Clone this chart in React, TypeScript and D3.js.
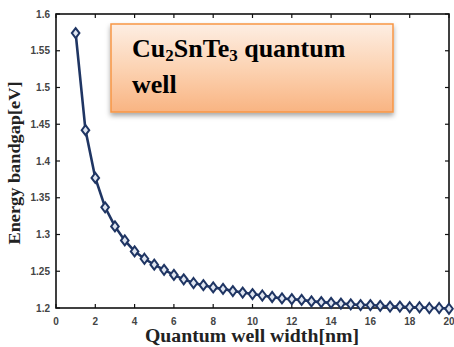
import React from "react";
import * as d3 from "d3";

const widths: number[] = [1, 1.5, 2, 2.5, 3, 3.5, 4, 4.5, 5, 5.5, 6, 6.5, 7, 7.5, 8, 8.5, 9, 9.5, 10, 10.5, 11, 11.5, 12, 12.5, 13, 13.5, 14, 14.5, 15, 15.5, 16, 16.5, 17, 17.5, 18, 18.5, 19, 19.5, 20];
const bandgap: number[] = [1.574, 1.442, 1.377, 1.337, 1.311, 1.292, 1.277, 1.267, 1.259, 1.252, 1.245, 1.239, 1.234, 1.231, 1.228, 1.226, 1.223, 1.221, 1.219, 1.217, 1.215, 1.213, 1.212, 1.211, 1.209, 1.208, 1.207, 1.206, 1.205, 1.204, 1.204, 1.203, 1.202, 1.202, 1.201, 1.201, 1.2, 1.2, 1.199];
const xTicks: number[] = [0, 2, 4, 6, 8, 10, 12, 14, 16, 18, 20];
const yTicks: number[] = [1.2, 1.25, 1.3, 1.35, 1.4, 1.45, 1.5, 1.55, 1.6];
const xLabel = "Quantum well width[nm]";
const yLabel = "Energy bandgap[eV]";

export default function App() {
  const W = 454, H = 347;
  const left = 56, right = 449, top = 14, bottom = 308;
  const x = d3.scaleLinear().domain([0, 20]).range([left, right]);
  const y = d3.scaleLinear().domain([1.2, 1.6]).range([bottom, top]);
  const pts = widths.map((w, i) => [w, bandgap[i]] as [number, number]);
  const line = d3.line<[number, number]>().x(d => x(d[0])).y(d => y(d[1]));
  const diamond = "M0,-5 L3.8,0 L0,5 L-3.8,0 Z";
  const navy = "#1f3563";
  const tl = 4;
  return (
    <div style={{ position: "fixed", left: 0, top: 0, width: W, height: H, background: "#fff" }}>
      <svg width={W} height={H} style={{ display: "block" }}>
        <defs>
          <linearGradient id="boxg" x1="0" y1="0" x2="0" y2="1">
            <stop offset="0" stopColor="#fdeee3" />
            <stop offset="0.5" stopColor="#fcd3b3" />
            <stop offset="1" stopColor="#f9b482" />
          </linearGradient>
          <filter id="shadow" x="-10%" y="-10%" width="120%" height="140%">
            <feDropShadow dx="0" dy="3" stdDeviation="2.5" floodColor="#000" floodOpacity="0.35" />
          </filter>
        </defs>
        <rect x={left} y={top} width={right - left} height={bottom - top} fill="none" stroke="#111" strokeWidth={1.6} />
        {xTicks.map(t => (
          <g key={"x" + t}>
            <line x1={x(t)} x2={x(t)} y1={bottom} y2={bottom - tl} stroke="#111" strokeWidth={1.2} />
            <line x1={x(t)} x2={x(t)} y1={top} y2={top + tl} stroke="#111" strokeWidth={1.2} />
            <text x={x(t)} y={325} textAnchor="middle" fontFamily="Liberation Sans, Arial, sans-serif" fontWeight="bold" fontSize={10} fill="#444">{t}</text>
          </g>
        ))}
        {yTicks.map(t => (
          <g key={"y" + t}>
            <line x1={left} x2={left + tl} y1={y(t)} y2={y(t)} stroke="#111" strokeWidth={1.2} />
            <line x1={right} x2={right - tl} y1={y(t)} y2={y(t)} stroke="#111" strokeWidth={1.2} />
            <text x={50} y={y(t) + 3.5} textAnchor="end" fontFamily="Liberation Sans, Arial, sans-serif" fontWeight="bold" fontSize={10} fill="#444">{String(t)}</text>
          </g>
        ))}
        <path d={line(pts) || ""} fill="none" stroke={navy} strokeWidth={2.6} />
        {pts.map((p, i) => (
          <path key={i} d={diamond} transform={`translate(${x(p[0])},${y(p[1])})`} fill="#dfe5f0" stroke={navy} strokeWidth={2} />
        ))}
        <text x={252} y={342} textAnchor="middle" textLength={214} lengthAdjust="spacingAndGlyphs" fontFamily="Liberation Serif, Times New Roman, serif" fontWeight="bold" fontSize={18} fill="#222">{xLabel}</text>
        <text transform="translate(20,163) rotate(-90)" textAnchor="middle" textLength={163} lengthAdjust="spacingAndGlyphs" fontFamily="Liberation Serif, Times New Roman, serif" fontWeight="bold" fontSize={16} fill="#222">{yLabel}</text>
        <rect x={111} y={24} width={282} height={88} fill="url(#boxg)" stroke="#f79646" strokeWidth={1.5} filter="url(#shadow)" />
        <text x={132} y={57} fontFamily="Liberation Serif, Times New Roman, serif" fontWeight="bold" fontSize={26} fill="#000">
          Cu<tspan fontSize={17} dy={4}>2</tspan><tspan dy={-4}>SnTe</tspan><tspan fontSize={17} dy={4}>3</tspan><tspan dy={-4}> quantum</tspan>
        </text>
        <text x={132} y={93} fontFamily="Liberation Serif, Times New Roman, serif" fontWeight="bold" fontSize={26} fill="#000">well</text>
      </svg>
    </div>
  );
}
